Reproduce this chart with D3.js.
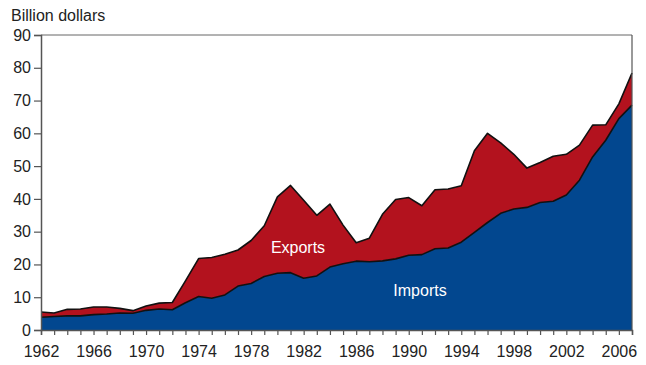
<!DOCTYPE html>
<html><head><meta charset="utf-8">
<script src="https://cdn.jsdelivr.net/npm/d3@7"></script>
<style>body{margin:0;background:#fff}svg{display:block}text{font-family:"Liberation Sans",Arial,sans-serif}</style>
</head><body><svg id="c" width="646" height="365"></svg>
<script>
const years = d3.range(1962, 2008);
const imports = [3.9,4.1,4.3,4.3,4.7,4.9,5.2,5.1,6.0,6.4,6.2,8.3,10.2,9.7,10.7,13.4,14.2,16.3,17.3,17.5,15.8,16.5,19.2,20.2,21.0,20.8,21.1,21.7,22.8,23.0,24.8,25.0,26.8,29.8,32.8,35.6,36.9,37.4,38.9,39.3,41.2,45.7,52.8,57.9,64.5,68.6];
const exports = [1.6,1.1,2.0,2.1,2.3,2.1,1.4,0.8,1.3,1.8,2.2,6.7,11.6,12.4,12.4,11.0,13.1,15.5,23.3,26.6,23.8,18.5,19.2,11.8,5.6,7.2,14.2,18.1,17.6,14.9,18.0,18.0,17.2,24.9,27.2,21.5,16.7,12.0,12.2,13.7,12.4,10.7,9.7,4.7,4.5,9.8];
const yTicks = [0,10,20,30,40,50,60,70,80,90];
const xLabelYears = [1962,1966,1970,1974,1978,1982,1986,1990,1994,1998,2002,2006];

const svg = d3.select("#c");
const L = 41, R = 632, T = 35, B = 330;
const x = d3.scaleLinear().domain([1962, 2007]).range([L, R]);
const y = d3.scaleLinear().domain([0, 90]).range([B, T]);

const table = years.map((yr, i) => ({year: yr, imports: imports[i], exports: exports[i]}));
const series = d3.stack().keys(["imports", "exports"])(table);
const colors = {imports: "#02478f", exports: "#b3121e"};

const area = d3.area().x(d => x(d.data.year)).y0(d => y(d[0])).y1(d => y(d[1]));
const line = d3.line().x(d => x(d.data.year)).y(d => y(d[1]));

svg.selectAll("path.area").data(series).join("path")
  .attr("class", "area").attr("d", area).attr("fill", d => colors[d.key]);
svg.selectAll("path.edge").data(series).join("path")
  .attr("class", "edge").attr("d", line).attr("fill", "none")
  .attr("stroke", "#111").attr("stroke-width", 1.6).attr("stroke-linejoin", "round");

// frame top & right
svg.append("line").attr("x1", L).attr("x2", R).attr("y1", T).attr("y2", T).attr("stroke", "#666").attr("stroke-width", 1);
svg.append("line").attr("x1", R).attr("x2", R).attr("y1", T).attr("y2", B).attr("stroke", "#555").attr("stroke-width", 1.2);

const FF = "Liberation Sans, Arial, sans-serif";
// y axis
const yAxis = d3.axisLeft(y).tickValues(yTicks).tickSize(7).tickPadding(3).tickFormat(d3.format("d"));
const gy = svg.append("g").attr("transform", `translate(${L},0)`).call(yAxis);
gy.select(".domain").attr("stroke", "#555").attr("stroke-width", 1.5);
gy.selectAll(".tick line").attr("stroke", "#555").attr("stroke-width", 1.2);
gy.selectAll(".tick text").attr("font-size", 16).attr("fill", "#222").attr("font-family", FF);

// x axis
const xAxis = d3.axisBottom(x).tickValues(years).tickSize(5).tickPadding(11)
  .tickFormat(d => xLabelYears.includes(d) ? String(d) : "");
const gx = svg.append("g").attr("transform", `translate(0,${B})`).call(xAxis);
gx.select(".domain").attr("stroke", "#555").attr("stroke-width", 1.5);
gx.selectAll(".tick line").attr("stroke", "#555").attr("stroke-width", 1.2);
gx.selectAll(".tick text").attr("font-size", 16).attr("fill", "#222").attr("font-family", FF);

svg.append("text").attr("x", 11).attr("y", 21).attr("font-size", 16).attr("fill", "#222").attr("font-family", FF).text("Billion dollars");

svg.append("text").attr("x", 298).attr("y", 253).attr("text-anchor", "middle").attr("font-size", 16).attr("fill", "#fff").attr("font-family", FF).text("Exports");
svg.append("text").attr("x", 420).attr("y", 296).attr("text-anchor", "middle").attr("font-size", 16).attr("fill", "#fff").attr("font-family", FF).text("Imports");
</script></body></html>
